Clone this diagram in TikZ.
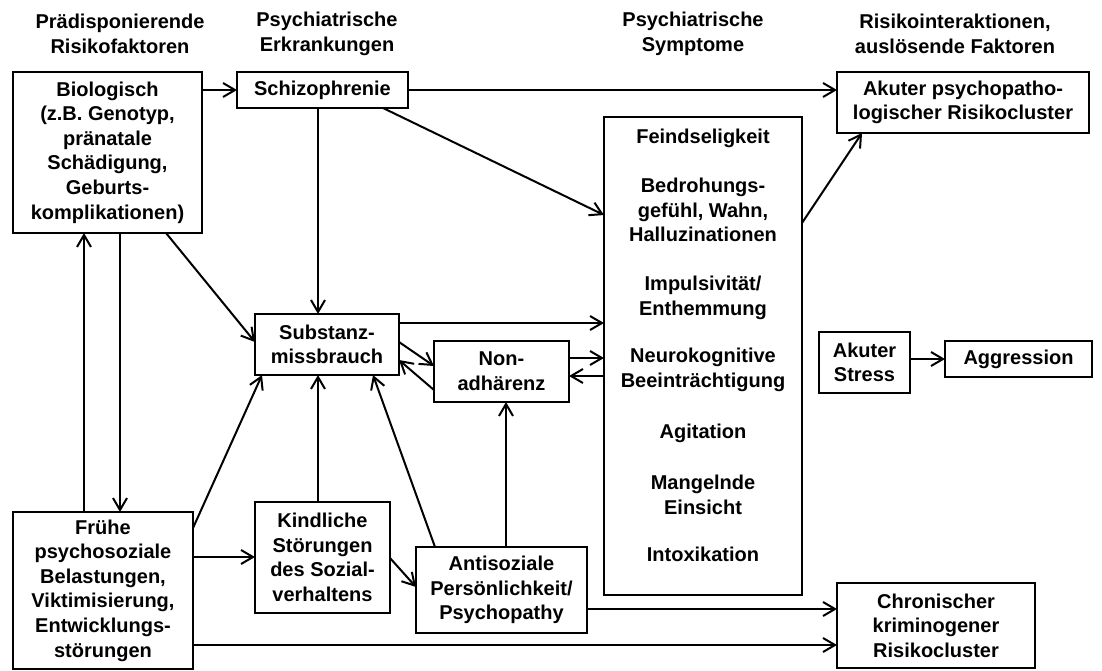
\documentclass[tikz,border=0pt]{standalone}
\usepackage{fontspec}
\setmainfont{Liberation Sans}
\usetikzlibrary{arrows.meta,calc}
\tikzset{
  fnt/.style={font=\bfseries\fontsize{20}{24.6}\selectfont},
  box/.style={draw, line width=2.4pt, inner sep=0pt, outer sep=0pt, align=center, fnt},
  txt/.style={inner sep=0pt, outer sep=0pt, align=center, fnt},
  arr/.style={line width=2pt, -{Straight Barb[length=12pt,width=14pt]}}
}
\begin{document}
\begin{tikzpicture}[x=1pt,y=-1pt]
\useasboundingbox (0,0) rectangle (1102,670);
% headers
\node[txt] (h1) at (120,34) {Prädisponierende\\Risikofaktoren};
\node[txt] (h2) at (327,34) {Psychiatrische\\Erkrankungen};
\node[txt] (h3) at (693,34) {Psychiatrische\\Symptome};
\node[txt] (h4) at (955,34) {Risikointeraktionen,\\auslösende Faktoren};
% boxes
\node[box, minimum width=189, minimum height=161] (bio) at (107.5,152.5)
  {Biologisch\\(z.B. Genotyp,\\pränatale\\Schädigung,\\Geburts-\\komplikationen)};
\node[box, minimum width=171, minimum height=36] (schizo) at (322.5,90) {Schizophrenie};
\node[box, minimum width=252, minimum height=61] (akut) at (963,102.5)
  {Akuter psychopatho-\\logischer Risikocluster};
\node[box, minimum width=198, minimum height=478] (feind) at (703,356) {};
\node[txt] (f1) at (703,138) {Feindseligkeit};
\node[txt] (f2) at (703,210) {Bedrohungs-\\gefühl, Wahn,\\Halluzinationen};
\node[txt] (f3) at (703,298) {Impulsivität/\\Enthemmung};
\node[txt] (f4) at (703,370) {Neurokognitive\\Beeinträchtigung};
\node[txt] (f5) at (703,433) {Agitation};
\node[txt] (f6) at (703,495) {Mangelnde\\Einsicht};
\node[txt] (f7) at (703,554) {Intoxikation};
\node[box, minimum width=144, minimum height=61] (subst) at (327,344.5) {Substanz-\\missbrauch};
\node[box, minimum width=135, minimum height=61] (non) at (501.5,371.5) {Non-\\adhärenz};
\node[box, minimum width=91, minimum height=61] (stress) at (864.5,362.5) {Akuter\\Stress};
\node[box, minimum width=147, minimum height=36] (aggr) at (1018.5,359) {Aggression};
\node[box, minimum width=180, minimum height=157] (frueh) at (103,590.5)
  {Frühe\\psychosoziale\\Belastungen,\\Viktimisierung,\\Entwicklungs-\\störungen};
\node[box, minimum width=135, minimum height=111] (kind) at (322.5,557.5)
  {Kindliche\\Störungen\\des Sozial-\\verhaltens};
\node[box, minimum width=171, minimum height=86] (anti) at (501.5,590)
  {Antisoziale\\Persönlichkeit/\\Psychopathy};
\node[box, minimum width=198, minimum height=85] (chron) at (936,625.5)
  {Chronischer\\kriminogener\\Risikocluster};
% helper coordinates
\coordinate (x84) at (84,0);
\coordinate (x120) at (120,0);
\coordinate (x318) at (318,0);
\coordinate (x506) at (506,0);
\coordinate (y323) at (0,323);
\coordinate (y358) at (0,358);
\coordinate (y376) at (0,376);
\coordinate (y557) at (0,557);
\coordinate (y609) at (0,609);
\coordinate (y645) at (0,645);
% connectors
\draw[arr] (bio.east |- schizo.west) -- (schizo.west);
\draw[arr] (schizo.east) -- (akut.west |- schizo.east);
\draw[arr] ($(schizo.south west)+(146,0)$) -- ($(feind.north west)+(0,98)$);
\draw[arr] (schizo.south -| x318) -- (subst.north -| x318);
\draw[arr] ($(bio.south west)+(153,0)$) -- ($(subst.north west)+(0,28)$);
\draw[arr] (frueh.north -| x84) -- (bio.south -| x84);
\draw[arr] (bio.south -| x120) -- (frueh.north -| x120);
\draw[arr] ($(frueh.north east)+(0,16)$) -- ($(subst.south west)+(7,0)$);
\draw[arr] (frueh.east |- y557) -- (kind.west |- y557);
\draw[arr] (kind.north -| x318) -- (subst.south -| x318);
\draw[arr] ($(anti.north west)+(19,0)$) -- ($(subst.south east)+(-26,0)$);
\draw[arr] ($(kind.north east)+(0,56)$) -- ($(anti.north west)+(0,40)$);
\draw[arr] (anti.north -| x506) -- (non.south -| x506);
\draw[arr] (subst.east |- y323) -- (feind.west |- y323);
\draw[arr] ($(subst.north east)+(0,28)$) -- ($(non.north west)+(0,25)$);
\draw[arr] ($(non.north west)+(0,49)$) -- ($(subst.north east)+(0,46)$);
\draw[arr] (non.east |- y358) -- (feind.west |- y358);
\draw[arr] (feind.west |- y376) -- (non.east |- y376);
\draw[arr] ($(feind.north east)+(0,106)$) -- ($(akut.south west)+(25,0)$);
\draw[arr] (stress.east |- aggr.west) -- (aggr.west);
\draw[arr] (anti.east |- y609) -- (chron.west |- y609);
\draw[arr] (frueh.east |- y645) -- (chron.west |- y645);
\end{tikzpicture}
\end{document}
